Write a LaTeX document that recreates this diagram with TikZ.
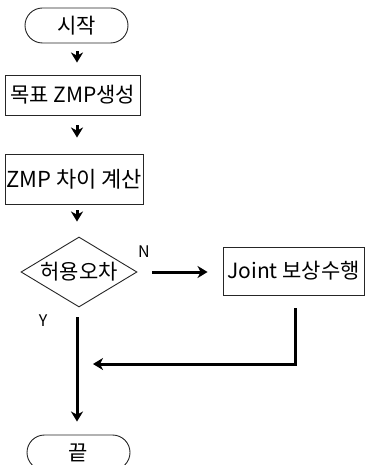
\documentclass[tikz,border=0pt]{standalone}
\usepackage{fontspec}
\setmainfont{Noto Sans CJK KR}
\usetikzlibrary{shapes.misc,shapes.geometric,arrows.meta}
\begin{document}
\begin{tikzpicture}[x=1pt,y=-1pt,
  txt/.style={inner sep=0pt,font=\fontsize{21}{22}\selectfont},
  box/.style={txt,draw=black!85,line width=0.9pt},
  term/.style={box,rounded rectangle,minimum width=103pt,minimum height=35pt},
  rbox/.style={box,rectangle},
  arr/.style={line width=3pt,-{Stealth[length=10pt,width=12pt,inset=3pt]}},
  lab/.style={font=\fontsize{16}{17}\selectfont,inner sep=0pt}]
\useasboundingbox (0,0) rectangle (366,465);
\fill[white] (0,0) rectangle (366,465);
\begin{scope}
\clip (0,0) rectangle (366,465);
\coordinate (spine) at (77,0);
\node[term] (start) at (76.5,25.5) {시작};
\node[rbox,minimum width=135pt,minimum height=40pt] (b1) at (72.5,95) {목표 ZMP생성};
\node[rbox,minimum width=138pt,minimum height=50pt,font=\fontsize{22}{23}\selectfont] (b2) at (74,179) {ZMP 차이 계산};
\node[box,diamond,minimum width=116pt,minimum height=70pt] (dec) at (79,272) {};
\node[txt] (dect) at (dec.center) {허용오차};
\node[rbox,minimum width=141pt,minimum height=48pt] (jt) at (293.5,271) {Joint 보상수행};
\node[term] (end) at (78.5,452.5) {끝};
\node[lab] (nl) at (144,252) {N};
\node[lab] (yl) at (43,321) {Y};
\draw[arr,shorten <=8pt,shorten >=12pt] (start.south -| spine) -- (b1.north -| spine);
\draw[arr,shorten <=10pt,shorten >=16pt] (b1.south -| spine) -- (b2.north -| spine);
\draw[arr,shorten <=6pt,shorten >=15pt] (b2.south -| spine) -- (dec.north -| spine);
\draw[arr,shorten <=15pt,shorten >=15pt] (dec.east) -- (jt.west |- dec.east);
\draw[arr,shorten <=10pt,shorten >=13pt] (dec.south -| spine) -- (end.north -| spine);
\coordinate (ret) at (93,364);
\draw[arr,shorten <=13pt] (jt.south -| 295,0) |- (ret);
\end{scope}
\end{tikzpicture}
\end{document}
